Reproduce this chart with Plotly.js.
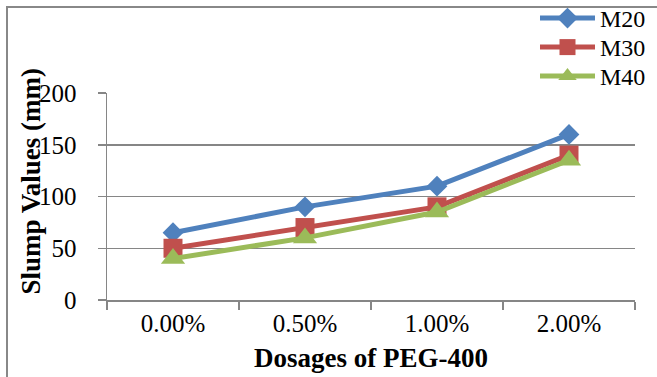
<!DOCTYPE html>
<html>
<head>
<meta charset="utf-8">
<script src="https://cdn.plot.ly/plotly-3.0.1.min.js"></script>
<style>html,body{margin:0;padding:0;background:#fff;}#chart{width:657px;height:377px;}</style>
</head>
<body>
<div id="chart"></div>
<script>
const categories = ['0.00%', '0.50%', '1.00%', '2.00%'];
const seriesNames = ['M20', 'M30', 'M40'];
const m20 = [65, 90, 110, 160];
const m30 = [50, 70, 90, 140];
const m40 = [40, 60, 85, 135];
const yTicks = [0, 50, 100, 150, 200];

const colors = ['#4F81BD', '#C0504D', '#9BBB59'];
const symbols = ['diamond', 'square', 'triangle-up'];
const sizes = [16, 19, 21];
const values = [m20, m30, m40];
const legendIds = ['legend', 'legend2', 'legend3'];

const traces = values.map((v, i) => ({
  type: 'scatter',
  mode: 'lines+markers',
  name: seriesNames[i],
  legend: legendIds[i],
  x: categories,
  y: v,
  line: {color: colors[i], width: 5},
  marker: {symbol: symbols[i], size: sizes[i], color: colors[i]}
}));

const W = 657, H = 377;
const L = 107, R = 635, T = 93, B = 300;
const px2x = p => (p - L) / (R - L);
const px2y = p => (B - p) / (B - T);
const FONT = 'Liberation Serif';

const legendCenters = [18, 47, 76];
const mkLegend = (cy) => ({
  x: px2x(535), y: px2y(cy - 22), xanchor: 'left', yanchor: 'top',
  bgcolor: 'rgba(255,255,255,0)',
  font: {family: FONT, size: 24, color: '#000'},
  itemwidth: 55
});

const layout = {
  width: W, height: H,
  margin: {l: L, r: W - R, t: T, b: H - B, pad: 0, autoexpand: false},
  paper_bgcolor: '#ffffff',
  plot_bgcolor: '#ffffff',
  font: {family: FONT, size: 24, color: '#000'},
  showlegend: true,
  legend: mkLegend(legendCenters[0]),
  legend2: mkLegend(legendCenters[1]),
  legend3: mkLegend(legendCenters[2]),
  xaxis: {
    type: 'category',
    range: [-0.5, 3.5],
    showgrid: false,
    showline: true, linecolor: '#868686', linewidth: 1.5,
    ticks: 'outside', tickson: 'boundaries', ticklen: 8, tickcolor: '#868686', tickwidth: 1.5,
    tickfont: {family: FONT, size: 25, color: '#000'},
    ticklabelstandoff: 0,
    zeroline: false
  },
  yaxis: {
    range: [0, 200],
    tickvals: yTicks,
    ticktext: yTicks.map(String),
    showgrid: true, gridcolor: '#868686', gridwidth: 1.5,
    showline: true, linecolor: '#868686', linewidth: 1.5,
    ticks: 'outside', ticklen: 8, tickcolor: '#868686', tickwidth: 1.5,
    tickfont: {family: FONT, size: 25, color: '#000'},
    ticklabelstandoff: 16,
    zeroline: false
  },
  shapes: [{
    type: 'rect', xref: 'paper', yref: 'paper',
    x0: px2x(7), x1: px2x(670), y0: px2y(7), y1: px2y(390),
    line: {color: '#888888', width: 2}
  }],
  annotations: [
    {text: '<b>Dosages of PEG-400</b>', xref: 'paper', yref: 'paper',
     x: 0.5, y: px2y(358), xanchor: 'center', yanchor: 'middle', showarrow: false,
     font: {family: FONT, size: 27, color: '#000'}},
    {text: '<b>Slump Values (mm)</b>', xref: 'paper', yref: 'paper',
     x: px2x(30), y: px2y(181.5), xanchor: 'center', yanchor: 'middle', showarrow: false,
     textangle: -90,
     font: {family: FONT, size: 27, color: '#000'}}
  ]
};

Plotly.newPlot('chart', traces, layout, {displayModeBar: false, staticPlot: true});
</script>
</body>
</html>
